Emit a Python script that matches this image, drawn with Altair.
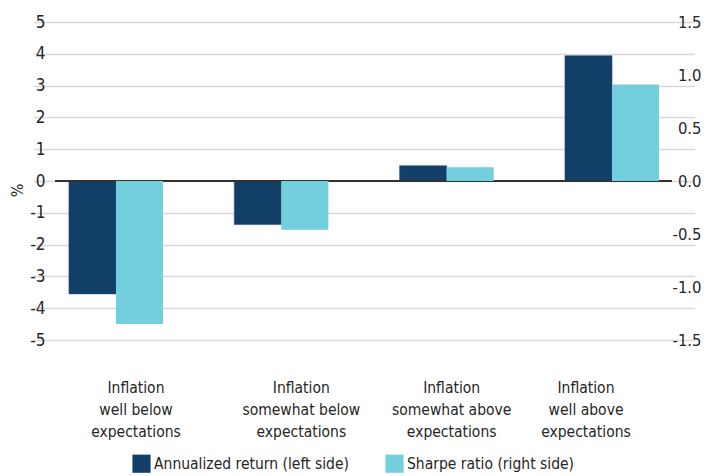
import altair as alt
import pandas as pd

categories = [
    "Inflation\nwell below\nexpectations",
    "Inflation\nsomewhat below\nexpectations",
    "Inflation\nsomewhat above\nexpectations",
    "Inflation\nwell above\nexpectations",
]
annualized_return = [-3.55, -1.37, 0.48, 3.94]
sharpe_ratio = [-1.35, -0.46, 0.13, 0.91]
series_names = ["Annualized return (left side)", "Sharpe ratio (right side)"]
label_shift = [20, 20, 5, -26]
left_ticks = [-5, -4, -3, -2, -1, 0, 1, 2, 3, 4, 5]
right_ticks = [-1.5, -1.0, -0.5, 0.0, 0.5, 1.0, 1.5]

FONT = "Liberation Sans Narrow, Arial Narrow, DejaVu Sans Condensed, sans-serif"
DARK = "#123f68"
LIGHT = "#73cedd"
TXT = "#262626"

rows = []
for c, r, s in zip(categories, annualized_return, sharpe_ratio):
    rows.append({"category": c, "series": series_names[0], "value": r})
    rows.append({"category": c, "series": series_names[1], "value": s})
df = pd.DataFrame(rows)

x_enc = alt.X(
    "category:N",
    sort=categories,
    scale=alt.Scale(domain=categories, range=[-21.67, 639.67],
                    paddingInner=0.431, paddingOuter=0.2155),
    axis=alt.Axis(
        title=None, domain=False, ticks=False, labelAngle=0, grid=False,
        labelExpr="split(datum.label, '\\n')",
        labelFont=FONT, labelFontSize=15.5, labelColor=TXT,
        labelLineHeight=22, labelPadding=40, labelBaseline="top",
        labelOffset={
            "condition": [
                {"test": f"datum.value === {repr(c)}", "value": o}
                for c, o in zip(categories, label_shift)
            ],
            "value": 0,
        },
    ),
)
xoff = alt.XOffset("series:N", scale=alt.Scale(domain=series_names, paddingInner=0, paddingOuter=0))
color = alt.Color(
    "series:N",
    scale=alt.Scale(domain=series_names, range=[DARK, LIGHT]),
    legend=alt.Legend(
        title=None, orient="none", direction="horizontal",
        legendX=77, legendY=432, symbolType="square", symbolSize=330,
        symbolStrokeWidth=0, labelFont=FONT, labelFontSize=15.5,
        labelColor=TXT, columnPadding=36, labelOffset=3, padding=0,
        labelLimit=400,
    ),
)

left_scale = alt.Scale(domain=[-5, 5], nice=False, zero=False)
left_axis = alt.Axis(
    title="%", titleFont=FONT, titleFontSize=16, titleFontWeight="normal",
    titleColor=TXT, titleAngle=-90, titleX=-38, titleY=168,
    titleBaseline="middle", titleAlign="center",
    values=left_ticks, labelExpr="'' + datum.value", labelOverlap=False,
    domain=False, ticks=False,
    labelFont=FONT, labelFontSize=17, labelColor=TXT, labelPadding=10,
    grid=True, gridColor="#d9d9d9", gridWidth=1.5,
)

base = alt.Chart(df)

left_bars = base.transform_filter(alt.datum.series == series_names[0]).mark_bar(
    stroke="#2b5279", strokeWidth=0.6
).encode(
    x=x_enc,
    xOffset=xoff,
    y=alt.Y("value:Q", scale=left_scale, axis=left_axis),
    color=color,
)

zero_line = base.mark_rule(color="#333333", strokeWidth=1.3).encode(
    y=alt.datum(0, scale=left_scale, axis=left_axis)
)

right_bars = base.transform_filter(alt.datum.series == series_names[1]).mark_bar().encode(
    x=x_enc,
    xOffset=xoff,
    y=alt.Y(
        "value:Q",
        scale=alt.Scale(domain=[-1.5, 1.5], nice=False, zero=False),
        axis=alt.Axis(
            title=None, orient="right", values=right_ticks,
            labelExpr="replace(format(datum.value, '.1f'), '\u2212', '-')",
            labelOverlap=False,
            domain=False, ticks=False, grid=False,
            labelFont=FONT, labelFontSize=16.5, labelColor=TXT,
            labelAlign="right", labelPadding=29,
        ),
    ),
    color=color,
)

left_layer = alt.layer(left_bars, zero_line)

chart = alt.layer(left_layer, right_bars).resolve_scale(y="independent").properties(
    width=617,
    height=318,
    background="white",
    autosize=alt.AutoSizeParams(type="none"),
    padding={"left": 47, "top": 14, "right": 30, "bottom": 134},
).configure_view(strokeWidth=0, stroke="transparent")

chart.save("out.html", embed_options={"renderer": "svg", "actions": False})
